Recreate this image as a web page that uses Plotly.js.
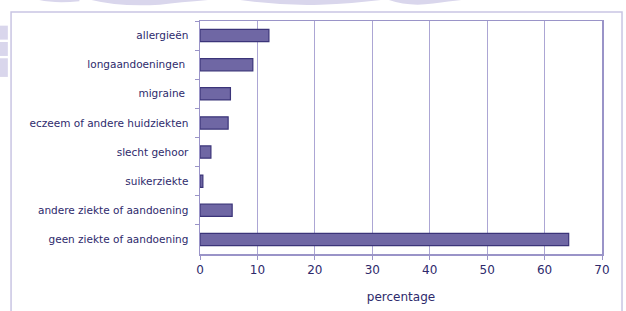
<!DOCTYPE html>
<html>
<head>
<meta charset="utf-8">
<script src="https://cdn.plot.ly/plotly-3.0.1.min.js"></script>
<style>html,body{margin:0;padding:0;background:#fff;}#chart{width:626px;height:311px;}</style>
</head>
<body>
<div id="chart"></div>
<script>
const categories = [
  "allergieën",
  "longaandoeningen ",
  "migraine ",
  "eczeem of andere huidziekten",
  "slecht gehoor",
  "suikerziekte",
  "andere ziekte of aandoening",
  "geen ziekte of aandoening"
];
const percentages = [12.0, 9.2, 5.3, 4.9, 1.9, 0.5, 5.6, 64.2];
const xTickValues = [0, 10, 20, 30, 40, 50, 60, 70];
const xTitle = "percentage";

const textColor = "#2e2a6c";
const wm = "#d9d6ec";

const trace = {
  type: "bar",
  orientation: "h",
  y: categories,
  x: percentages,
  marker: { color: "#6f67a4", line: { color: "#3b3479", width: 1.2 } },
  width: 0.42,
  hoverinfo: "x+y"
};

const layout = {
  width: 626,
  height: 311,
  margin: { l: 200, r: 24, t: 21, b: 57, pad: 0 },
  paper_bgcolor: "#ffffff",
  plot_bgcolor: "#ffffff",
  font: { family: "DejaVu Sans, Verdana, sans-serif", color: textColor },
  showlegend: false,
  xaxis: {
    range: [0, 70],
    tickvals: xTickValues,
    ticktext: xTickValues.map(String),
    showgrid: true,
    gridcolor: "#aca6d4",
    gridwidth: 1,
    zeroline: false,
    showline: true,
    linecolor: "#9a94c8",
    linewidth: 1.5,
    mirror: true,
    ticks: "outside",
    ticklen: 4,
    tickcolor: "#9a94c8",
    tickfont: { size: 12, color: textColor },
    title: { text: xTitle, font: { size: 12, color: textColor }, standoff: 16 }
  },
  yaxis: {
    type: "category",
    autorange: "reversed",
    showgrid: false,
    zeroline: false,
    showline: true,
    linecolor: "#9a94c8",
    linewidth: 1.5,
    mirror: true,
    ticks: "outside",
    tickson: "boundaries",
    ticklen: 4,
    tickcolor: "#9a94c8",
    ticklabelstandoff: 8,
    tickfont: { size: 10.5, color: textColor }
  },
  shapes: [
    { type: "rect", xref: "paper", yref: "paper", x0: -0.470, x1: 1.0498, y0: -0.30, y1: 1.0386,
      line: { color: "#c9c5e3", width: 1.5 }, fillcolor: "rgba(0,0,0,0)", layer: "below" },
    { type: "path", xref: "paper", yref: "paper", layer: "below", line: { width: 0 }, fillcolor: wm,
      path: "M -0.498 1.09 L -0.40 1.09 Q -0.36 1.075 -0.30 1.085 L -0.30 1.09 Z" },
    { type: "path", xref: "paper", yref: "paper", layer: "below", line: { width: 0 }, fillcolor: wm,
      path: "M -0.27 1.09 Q -0.20 1.06 -0.10 1.07 Q -0.05 1.08 0.02 1.09 Z" },
    { type: "path", xref: "paper", yref: "paper", layer: "below", line: { width: 0 }, fillcolor: wm,
      path: "M 0.10 1.09 Q 0.20 1.065 0.30 1.07 Q 0.38 1.075 0.45 1.09 Z" },
    { type: "path", xref: "paper", yref: "paper", layer: "below", line: { width: 0 }, fillcolor: wm,
      path: "M 0.47 1.09 Q 0.52 1.06 0.58 1.075 Q 0.62 1.085 0.65 1.09 Z" },
    { type: "rect", xref: "paper", yref: "paper", layer: "below", line: { width: 0 }, fillcolor: wm,
      x0: -0.498, x1: -0.478, y0: 0.92, y1: 0.98 },
    { type: "rect", xref: "paper", yref: "paper", layer: "below", line: { width: 0 }, fillcolor: wm,
      x0: -0.498, x1: -0.478, y0: 0.85, y1: 0.91 },
    { type: "rect", xref: "paper", yref: "paper", layer: "below", line: { width: 0 }, fillcolor: wm,
      x0: -0.498, x1: -0.478, y0: 0.76, y1: 0.84 }
  ]
};

Plotly.newPlot("chart", [trace], layout, { displayModeBar: false, staticPlot: true });
</script>
</body>
</html>
